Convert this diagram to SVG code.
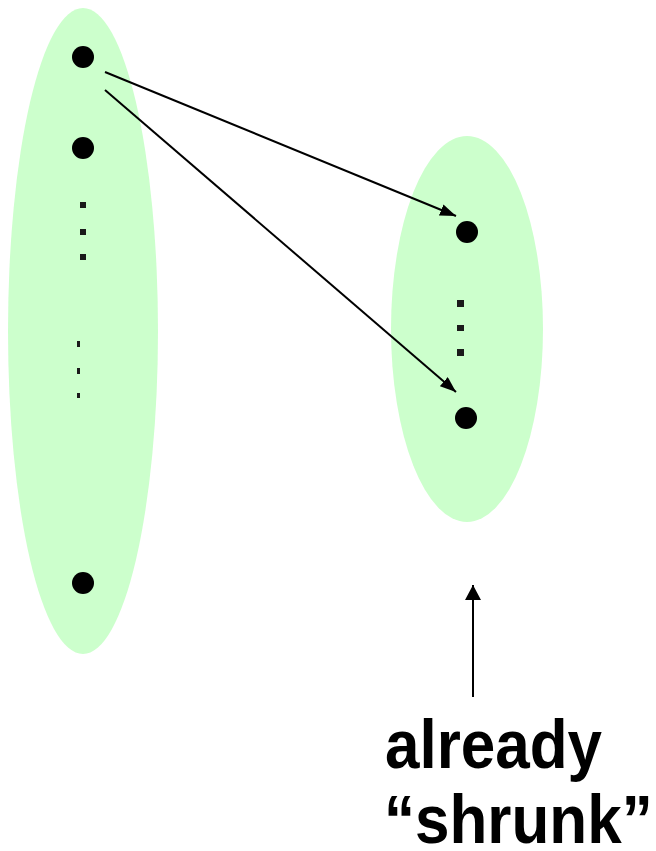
<svg xmlns="http://www.w3.org/2000/svg" width="656" height="851" viewBox="0 0 656 851">
<style>
.set{fill:#ccffcc}
.pt{fill:#000}
.sq{fill:#1a1a1a}
.con{stroke:#000;stroke-width:2;fill:none}
.lbl{font-family:"Liberation Sans",Arial,sans-serif;font-weight:bold;font-size:62px;fill:#000}
</style>
<defs>
<marker id="ah" viewBox="0 0 16 12" refX="16" refY="6" markerWidth="16" markerHeight="12" markerUnits="userSpaceOnUse" orient="auto">
<path d="M0,0 L16,6 L0,12 z" fill="#000"/>
</marker>
<marker id="ahv" viewBox="0 0 15 16" refX="15" refY="8" markerWidth="15" markerHeight="16" markerUnits="userSpaceOnUse" orient="auto">
<path d="M0,0 L15,8 L0,16 z" fill="#000"/>
</marker>
</defs>
<g id="left-set">
<ellipse class="set" cx="83" cy="331" rx="75" ry="323"/>
<circle class="pt" cx="83" cy="57" r="11"/>
<circle class="pt" cx="83" cy="148" r="11"/>
<circle class="pt" cx="83" cy="583" r="11"/>
<rect class="sq" x="80" y="202" width="6" height="6"/>
<rect class="sq" x="80" y="229" width="6" height="6"/>
<rect class="sq" x="80" y="254" width="6" height="6"/>
<rect class="sq" x="77" y="341" width="3" height="6"/>
<rect class="sq" x="77" y="368" width="3" height="6"/>
<rect class="sq" x="77" y="393" width="3" height="5"/>
</g>
<g id="right-set">
<ellipse class="set" cx="467" cy="329" rx="76" ry="193"/>
<circle class="pt" cx="467" cy="232" r="11"/>
<circle class="pt" cx="466" cy="418" r="11"/>
<rect class="sq" x="457" y="300" width="7" height="7"/>
<rect class="sq" x="457" y="325" width="7" height="6"/>
<rect class="sq" x="457" y="349" width="7" height="7"/>
</g>
<g id="connectors">
<line class="con" x1="105" y1="72" x2="456" y2="216" marker-end="url(#ah)"/>
<line class="con" x1="105" y1="90" x2="456" y2="392" marker-end="url(#ah)"/>
<line class="con" x1="473" y1="697" x2="473" y2="585" stroke-width="3" marker-end="url(#ahv)"/>
</g>
<g id="label">
<text class="lbl" transform="translate(385,768) scale(1,1.1)">already</text>
<text class="lbl" transform="translate(384,843) scale(1,1.1)">“shrunk”</text>
</g>
</svg>
